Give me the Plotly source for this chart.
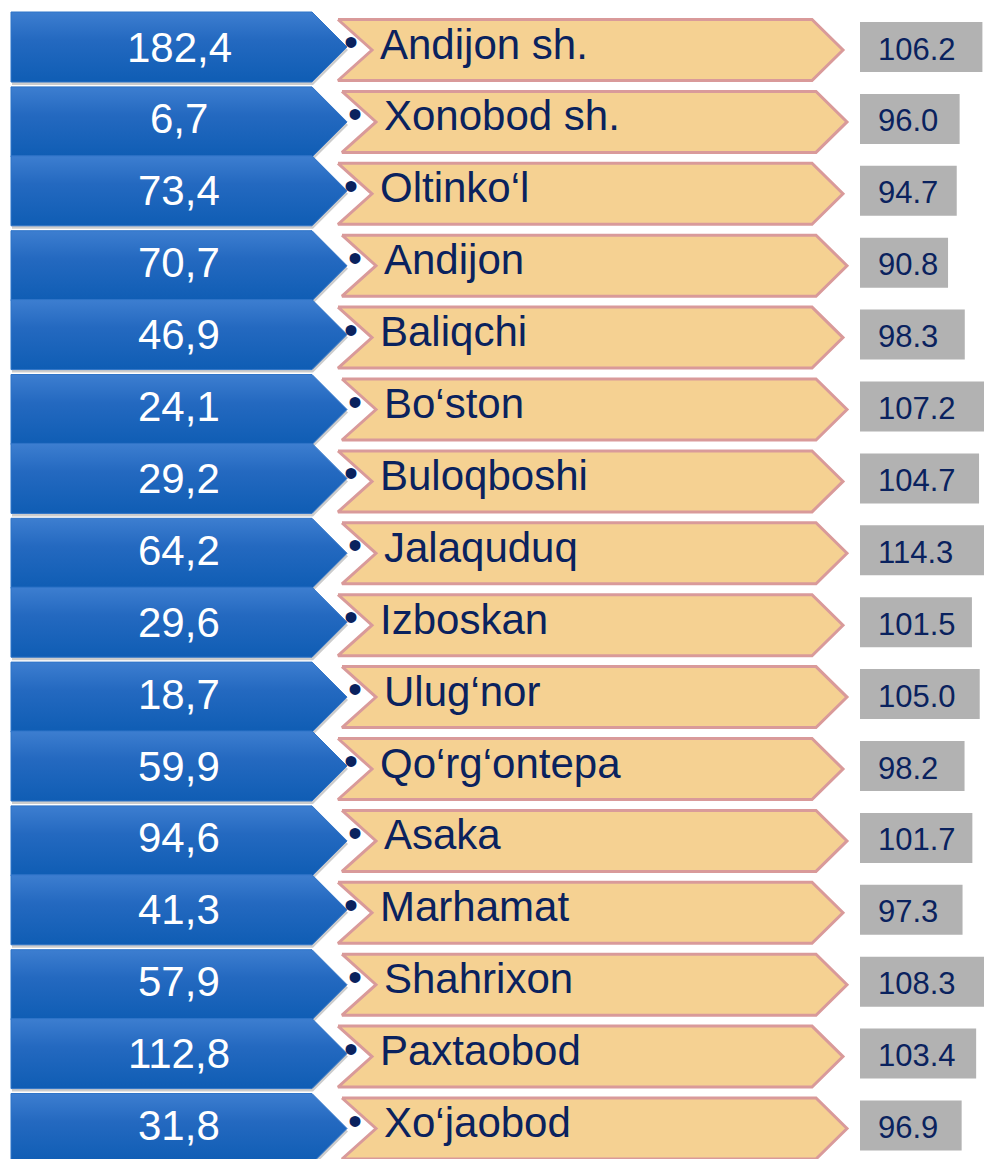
import plotly.graph_objects as go

districts = [
    "Andijon sh.", "Xonobod sh.", "Oltinko\u2018l", "Andijon", "Baliqchi",
    "Bo\u2018ston", "Buloqboshi", "Jalaquduq", "Izboskan", "Ulug\u2018nor",
    "Qo\u2018rg\u2018ontepa", "Asaka", "Marhamat", "Shahrixon", "Paxtaobod",
    "Xo\u2018jaobod",
]
volume = [182.4, 6.7, 73.4, 70.7, 46.9, 24.1, 29.2, 64.2, 29.6, 18.7,
          59.9, 94.6, 41.3, 57.9, 112.8, 31.8]
growth = [106.2, 96.0, 94.7, 90.8, 98.3, 107.2, 104.7, 114.3, 101.5, 105.0,
          98.2, 101.7, 97.3, 108.3, 103.4, 96.9]

PAGE_W, PAGE_H = 992, 1159
OFF = 8               # body margin of the html page
PITCH = 71.9          # px per row
ROW0 = 47             # px centre of first row (page coords)
FONT = "Arial, 'Liberation Sans', sans-serif"
NAVY = "#0a225e"


def px(v):
    return v / PITCH


rows = list(range(len(districts)))
fig = go.Figure()

for i in rows:
    odd = i % 2
    h = px(35)
    c = i + (px(3) if odd else 0)
    bx = [11, 312, 347, 312, 11, 11]
    by = [c - h, c - h, c, c + h, c + h, c - h]
    # soft shadow under the blue arrow
    fig.add_trace(go.Scatter(
        x=[v + 1 for v in bx], y=[v + px(3) for v in by],
        mode="lines", fill="toself", fillcolor="rgba(0,0,0,0.2)",
        line={"width": 0}, hoverinfo="skip", showlegend=False,
    ))
    fig.add_trace(go.Scatter(
        x=bx, y=by, mode="lines", fill="toself",
        fillgradient={"type": "vertical",
                      "colorscale": [[0, "#0f5db4"], [0.6, "#2469c0"], [1, "#3d7ed0"]]},
        line={"color": "#2f74c8", "width": 1},
        hoverinfo="skip", showlegend=False,
    ))

    dx = 4 if odd else 0
    c = i + px(3)
    t = px(30.5)
    fig.add_trace(go.Scatter(
        x=[338 + dx, 812 + dx, 843 + dx, 812 + dx, 338 + dx, 372 + dx, 338 + dx],
        y=[c - t, c - t, c, c + t, c + t, c, c - t],
        mode="lines", fill="toself", fillcolor="#f5d192",
        line={"color": "#d99a9a", "width": 3},
        hoverinfo="skip", showlegend=False,
    ))

fig.add_trace(go.Bar(
    x=growth, y=rows, orientation="h", xaxis="x2", yaxis="y",
    width=0.695, marker={"color": "#b2b2b2", "line": {"width": 0}},
    hoverinfo="skip", showlegend=False,
))

annotations = []
for i, (name, vol, g) in enumerate(zip(districts, volume, growth)):
    dx = 4 if i % 2 else 0
    annotations.append(dict(
        x=179, y=i, xref="x", yref="y", text=f"{vol:.1f}".replace(".", ","),
        showarrow=False, xanchor="center", yanchor="middle",
        font={"family": FONT, "size": 42, "color": "white"},
    ))
    annotations.append(dict(
        x=351 + dx, y=i - px(5), xref="x", yref="y", text="\u2022",
        showarrow=False, xanchor="center", yanchor="middle",
        font={"family": FONT, "size": 40, "color": NAVY},
    ))
    annotations.append(dict(
        x=378 + dx, y=i - px(3), xref="x", yref="y", text=name,
        showarrow=False, xanchor="left", yanchor="middle",
        font={"family": FONT, "size": 42, "color": NAVY},
    ))
    annotations.append(dict(
        x=876, y=i + px(2), xref="x", yref="y", text=f"{g:.1f}",
        showarrow=False, xanchor="left", yanchor="middle",
        font={"family": FONT, "size": 31, "color": NAVY},
    ))

fig.update_layout(
    width=PAGE_W - OFF, height=PAGE_H - OFF,
    margin={"l": 0, "r": 0, "t": 0, "b": 0},
    paper_bgcolor="white", plot_bgcolor="white",
    xaxis={"range": [OFF, PAGE_W], "domain": [0, 1], "visible": False, "fixedrange": True},
    xaxis2={"range": [51.35, 110.5], "domain": [(860 - OFF) / (PAGE_W - OFF), 1],
            "anchor": "y", "visible": False, "fixedrange": True},
    yaxis={"range": [px(PAGE_H - ROW0), px(OFF - ROW0)], "visible": False, "fixedrange": True},
    annotations=annotations,
    showlegend=False,
)

fig.write_html("out.html")
